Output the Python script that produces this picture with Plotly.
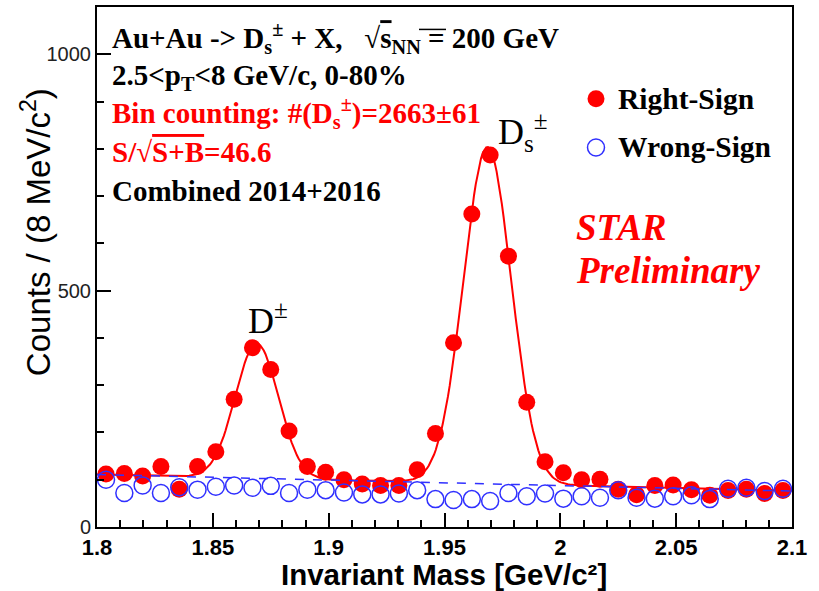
import plotly.graph_objects as go
import numpy as np

# ---------------- data ----------------
mass = [1.8039, 1.8118, 1.8197, 1.8276, 1.8355, 1.8434, 1.8513, 1.8592, 1.8671, 1.8750,
        1.8829, 1.8908, 1.8987, 1.9066, 1.9145, 1.9224, 1.9303, 1.9382, 1.9461, 1.9539,
        1.9618, 1.9697, 1.9776, 1.9855, 1.9934, 2.0013, 2.0092, 2.0171, 2.0250, 2.0329,
        2.0408, 2.0487, 2.0566, 2.0645, 2.0724, 2.0803, 2.0882, 2.0961]
right_sign = [112, 113, 108, 128, 80, 128, 159, 270, 379, 333,
              203, 128, 116, 100, 91, 88, 88, 121, 198, 390,
              662, 787, 573, 264, 138, 115, 100, 101, 80, 68,
              88, 89, 79, 67, 77, 80, 71, 77]
wrong_sign = [100, 72, 88, 72, 84, 79, 85, 88, 83, 87,
              72, 79, 78, 73, 69, 69, 71, 78, 59, 57,
              59, 55, 72, 65, 71, 60, 65, 62, 78, 62,
              60, 65, 67, 59, 81, 83, 76, 81]

# fit parameters
rs_bkg = [111.0, 77.0]               # background at 1.8 and 2.1
dplus_fit = [285.0, 1.869, 0.0093]   # amplitude, mean, sigma
ds_fit = [712.0, 1.9685, 0.0103]
ws_bkg = [111.0, 76.0]

x_tickvals = [1.8, 1.85, 1.9, 1.95, 2.0, 2.05, 2.1]
x_ticktext = ["1.8", "1.85", "1.9", "1.95", "2", "2.05", "2.1"]
y_tickvals = [0, 500, 1000]
y_ticktext = ["0", "500", "1000"]

# ---------------- fit curves ----------------
m_curve = np.linspace(1.8, 2.1, 401)
def lin(p, m):
    return p[0] + (p[1] - p[0]) * (m - 1.8) / 0.3
def gaus(p, m):
    return p[0] * np.exp(-0.5 * ((m - p[1]) / p[2]) ** 2)
rs_curve = lin(rs_bkg, m_curve) + gaus(dplus_fit, m_curve) + gaus(ds_fit, m_curve)
ws_curve = lin(ws_bkg, m_curve)

# ---------------- layout geometry ----------------
W, H = 819, 591
L, R, T, B = 97, 27, 5, 64
PW, PH = W - L - R, H - T - B
def px(x):
    return (x - L) / PW
def py(y):
    return (H - B - y) / PH

RED = "#ff0000"
BLUE = "#3030ff"
SERIF = "Liberation Serif, Times New Roman, serif"
SANS = "Liberation Sans, Arial, sans-serif"

fig = go.Figure()
fig.add_trace(go.Scatter(x=m_curve, y=rs_curve, mode="lines",
                         line=dict(color=RED, width=2), hoverinfo="skip", showlegend=False))
fig.add_trace(go.Scatter(x=mass, y=right_sign, mode="markers", name="Right-Sign",
                         marker=dict(color=RED, size=17, symbol="circle"), showlegend=False))
fig.add_trace(go.Scatter(x=mass, y=wrong_sign, mode="markers", name="Wrong-Sign",
                         marker=dict(color=BLUE, size=17, symbol="circle-open",
                                     line=dict(color=BLUE, width=1.5)), showlegend=False))
fig.add_trace(go.Scatter(x=m_curve, y=ws_curve, mode="lines",
                         line=dict(color=BLUE, width=1.5, dash="dash"), hoverinfo="skip", showlegend=False))

ann = []
def text(x, y, s, size, color="black", family=SERIF, xanchor="left", yanchor="middle", angle=0):
    ann.append(dict(x=px(x), y=py(y), xref="paper", yref="paper", text=s, showarrow=False,
                    xanchor=xanchor, yanchor=yanchor, textangle=angle,
                    font=dict(size=size, color=color, family=family)))

nb = "\u00a0"
OV = "<span style='text-decoration:overline'>"
text(110, 36, "<b>Au+Au -&gt; D<sub>s</sub><sup>±</sup> + X," + nb + nb + " √" + OV + "s</span><sub>NN</sub> = 200 GeV</b>", 29)
text(110, 75, "<b>2.5&lt;p<sub>T</sub>&lt;8 GeV/c, 0-80%</b>", 29)
text(110, 111, "<b>Bin counting: #(D<sub>s</sub><sup>±</sup>)=2663±61</b>", 29, RED)
text(110, 151, "<b>S/√" + OV + "S+B</span>=46.6</b>", 29, RED)
text(110, 190, "<b>Combined 2014+2016</b>", 29)

text(574, 226, "<b><i>STAR</i></b>", 37, RED)
text(574, 270, "<b><i>Preliminary</i></b>", 37, RED)

text(246, 318, "D<sup>±</sup>", 36)
text(496, 130, "D<sub>s</sub><sup>±</sup>", 36)

# axis titles
text(36, 231, "Counts / (8 MeV/c<sup>2</sup>)", 33, family=SANS, xanchor="center", angle=-90)
text(444, 575, "<b>Invariant Mass [GeV/c²]</b>", 29.5, family=SANS, xanchor="center")

# legend
text(616, 97, "<b>Right-Sign</b>", 29.5)
text(616, 146, "<b>Wrong-Sign</b>", 29.5)
shapes = [
    dict(type="circle", xref="paper", yref="paper", xsizemode="pixel", ysizemode="pixel",
         xanchor=px(596), yanchor=py(97), x0=-8.5, x1=8.5, y0=-8.5, y1=8.5,
         fillcolor=RED, line=dict(color=RED, width=0)),
    dict(type="circle", xref="paper", yref="paper", xsizemode="pixel", ysizemode="pixel",
         xanchor=px(596), yanchor=py(146), x0=-8.5, x1=8.5, y0=-8.5, y1=8.5,
         fillcolor="rgba(0,0,0,0)", line=dict(color=BLUE, width=1.5)),
    # radical bar continuing over the NN subscript
    dict(type="line", xref="paper", yref="paper",
         x0=px(419), x1=px(446), y0=py(27.5), y1=py(27.5), line=dict(color="black", width=1.5)),
]

fig.update_layout(
    width=W, height=H, margin=dict(l=L, r=R, t=T, b=B),
    paper_bgcolor="white", plot_bgcolor="white",
    annotations=ann, shapes=shapes, showlegend=False,
    xaxis=dict(range=[1.8, 2.1], tickvals=x_tickvals, ticktext=x_ticktext,
               ticks="inside", ticklen=14, tickwidth=1.5, tickcolor="black",
               minor=dict(dtick=0.01, ticks="inside", ticklen=7, tickwidth=1.5, tickcolor="black"),
               showline=True, linecolor="black", linewidth=2, mirror=True,
               showgrid=False, zeroline=False,
               tickfont=dict(family=SANS, size=22, color="black", weight="bold")),
    yaxis=dict(range=[0, 1100], tickvals=y_tickvals, ticktext=y_ticktext,
               ticks="inside", ticklen=14, tickwidth=1.5, tickcolor="black",
               minor=dict(dtick=100, ticks="inside", ticklen=7, tickwidth=1.5, tickcolor="black"),
               showline=True, linecolor="black", linewidth=2, mirror=True,
               showgrid=False, zeroline=False,
               tickfont=dict(family=SANS, size=20, color="#222222")),
)

fig.write_html("out.html")
